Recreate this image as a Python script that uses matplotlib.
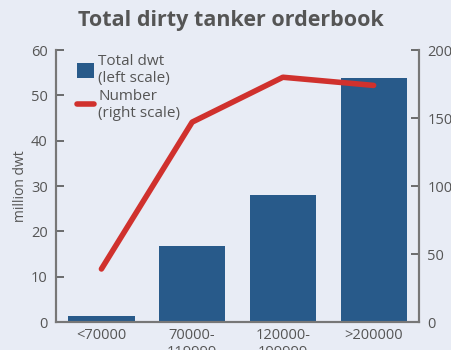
import numpy as np
import matplotlib.pyplot as plt

plt.rcParams['font.family'] = ['Open Sans', 'DejaVu Sans']

# data
categories = ['<70000', '70000-\n119999', '120000-\n199999', '>200000']
dwt = [1.3, 16.8, 28.0, 53.8]
number = [39, 147, 180, 174]

bg = '#e8ecf5'
bar_col = '#285a8a'
line_col = '#d0312d'
txt = '#555555'
spine_col = '#777777'

fig = plt.figure(figsize=(4.52, 3.5), dpi=100, facecolor=bg)
ax = fig.add_axes([0.124, 0.08, 0.803, 0.777])
ax.set_facecolor(bg)
ax2 = ax.twinx()

x = np.arange(len(categories))
b = ax.bar(x, dwt, width=0.73, color=bar_col, zorder=2)
l, = ax2.plot(x, number, color=line_col, lw=4, solid_capstyle='round', zorder=3)

ax.set_xlim(-0.5, 3.5)
ax.set_ylim(0, 60)
ax2.set_ylim(0, 200)
ax.set_yticks(range(0, 61, 10))
ax2.set_yticks(range(0, 201, 50))
ax.set_xticks(x)
ax.set_xticklabels(categories)

for a in (ax, ax2):
    a.spines['top'].set_visible(False)
    for s in ('left', 'right', 'bottom'):
        a.spines[s].set_color(spine_col)
        a.spines[s].set_linewidth(1.5)
    a.tick_params(colors=txt, labelsize=10.5, length=6, width=1.2, direction='in', pad=6)

ax.tick_params(axis='x', length=0, pad=4)
ax.set_ylabel('million dwt', color=txt, fontsize=10, labelpad=2)

ax.set_zorder(ax2.get_zorder() - 1)
ax.patch.set_visible(True)
ax2.patch.set_visible(False)

leg = ax2.legend([b, l], ['Total dwt\n(left scale)', 'Number\n(right scale)'],
                 loc='upper left', bbox_to_anchor=(0.02, 1.035), frameon=False,
                 fontsize=11, labelcolor=txt, handlelength=1.1, handleheight=1.1,
                 handletextpad=0.3, labelspacing=0.15)

fig.text(0.51, 0.942, 'Total dirty tanker orderbook', ha='center', va='center',
         fontsize=15.5, fontweight='bold', color=txt)

fig.savefig('out.png', dpi=100, facecolor=bg)
